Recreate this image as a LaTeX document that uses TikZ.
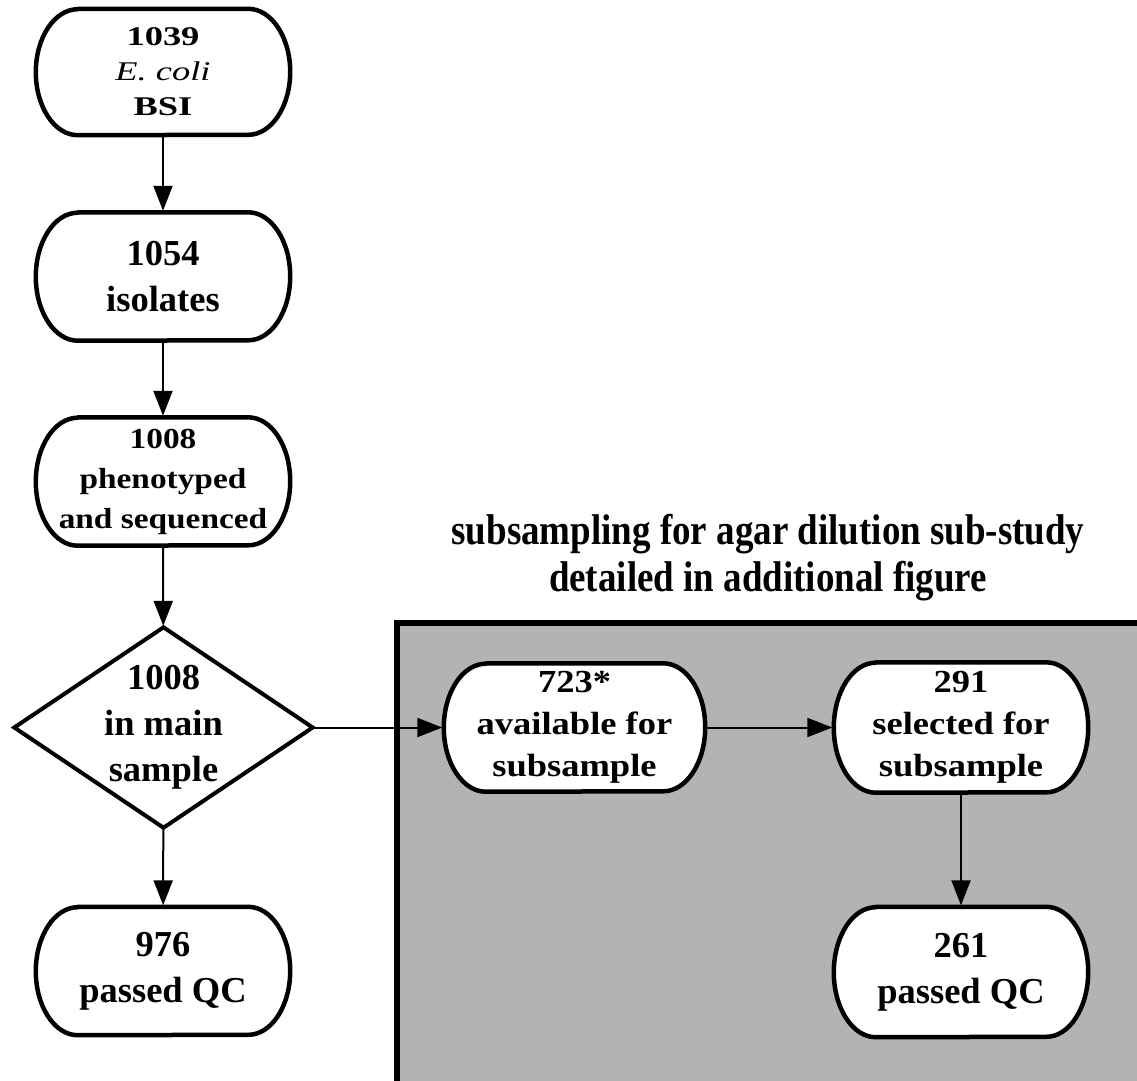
\documentclass[tikz,border=0pt]{standalone}
\usepackage{graphicx}
\usepackage{fontspec}
\setmainfont{Liberation Serif}
\usetikzlibrary{arrows.meta}
\pgfdeclarelayer{bg}
\pgfsetlayers{bg,main}
\definecolor{panelgray}{RGB}{179,179,179}
\newcommand{\hsq}[2]{\scalebox{#1}[1]{#2}}
\newcommand{\vsq}[2]{\scalebox{1}[#1]{#2}}
\newcommand{\stad}[2]{%
  \draw[boxline] ([xshift=42pt]#1.north west) -- ([xshift=-42pt]#1.north east)
    arc[start angle=90,end angle=-90,x radius=42pt,y radius=#2]
    -- ([xshift=42pt]#1.south west)
    arc[start angle=270,end angle=90,x radius=42pt,y radius=#2] -- cycle;}
\begin{document}
\begin{tikzpicture}[x=1pt,y=-1pt,
  boxline/.style={line width=4.5pt, fill=white, line join=round},
  arr/.style={line width=2pt, -{Triangle[length=25pt,width=19pt]}, shorten >=1.5pt},
  lbl/.style={align=center, inner sep=0pt, text=black},
  stadnode/.style={lbl, minimum width=254pt, minimum height=128pt},
  big/.style={font=\fontsize{36.5}{46}\selectfont\bfseries},
  sub/.style={font=\fontsize{36.5}{42}\selectfont\bfseries}
]
\useasboundingbox (0,0) rectangle (1137,1080);

% nodes (text)
\node[stadnode, minimum height=126pt, font=\fontsize{27}{35}\selectfont\bfseries] (n1) at (163,72)
  {\hsq{1.35}{1039}\\\hsq{1.35}{\mdseries\itshape E.~coli}\\\hsq{1.35}{BSI}};
\node[stadnode, big] (n2) at (163,276.5) {1054\\isolates};
\node[stadnode, font=\fontsize{29}{40}\selectfont\bfseries] (n3) at (163,481.5)
  {\hsq{1.15}{1008}\\\hsq{1.15}{phenotyped}\\\hsq{1.15}{and sequenced}};
\node[lbl, big, minimum width=298pt, minimum height=200pt] (d) at (163.5,727.5) {1008\\in main\\sample};
\node[stadnode, big] (n976) at (163,971) {976\\passed QC};

\node[lbl, font=\fontsize{43}{47}\selectfont\bfseries] (title) at (768,558)
  {\hsq{0.86}{subsampling for agar dilution sub-study}\\\hsq{0.86}{detailed in additional figure}};

\node[stadnode, sub, minimum width=261pt] (n723) at (574.5,727.5)
  {\vsq{0.88}{723*}\\\vsq{0.88}{available for}\\\vsq{0.88}{subsample}};
\node[stadnode, sub, minimum height=130pt] (n291) at (961,727.5)
  {\vsq{0.88}{291}\\\vsq{0.88}{selected for}\\\vsq{0.88}{subsample}};
\node[stadnode, big, minimum height=130pt] (n261) at (961,972) {261\\passed QC};

% background shapes
\begin{pgfonlayer}{bg}
  \begin{scope}
    \clip (0,0) rectangle (1137,1080);
    \fill[panelgray] (397,623) rectangle (1160,1100);
    \draw[line width=6pt] (1160,623) -- (397,623) -- (397,1100);
  \end{scope}
  \stad{n1}{63pt}
  \stad{n2}{64pt}
  \stad{n3}{64pt}
  \stad{n976}{64pt}
  \stad{n723}{64pt}
  \stad{n291}{65pt}
  \stad{n261}{65pt}
  \draw[line width=4pt, fill=white, line join=miter] (d.north) -- (d.east) -- (d.south) -- (d.west) -- cycle;
\end{pgfonlayer}

% connectors
\draw[arr] (n1) -- (n2);
\draw[arr] (n2) -- (n3);
\draw[arr] (n3) -- (d);
\draw[arr] (d) -- (n976);
\draw[arr] (d) -- (n723);
\draw[arr] (n723) -- (n291);
\draw[arr] (n291) -- (n261);
\end{tikzpicture}
\end{document}
